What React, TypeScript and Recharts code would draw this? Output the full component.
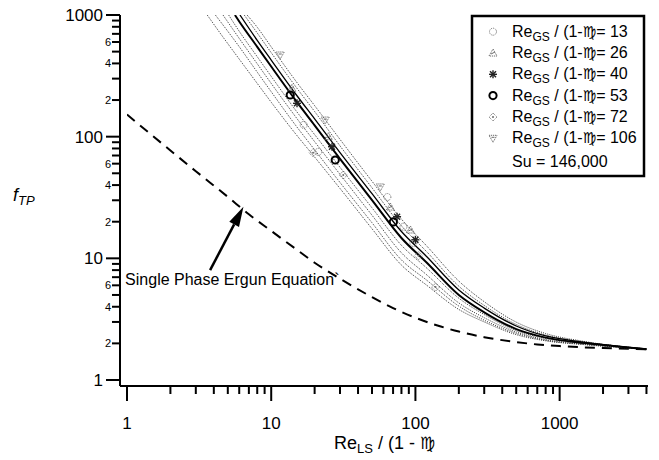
import React from 'react';
import { ComposedChart, Line, Scatter, XAxis, YAxis, ReferenceLine } from 'recharts';

// ---------- tick values ----------
const xTicks = [1, 2, 3, 4, 5, 6, 7, 8, 9, 10, 20, 30, 40, 50, 60, 70, 80, 90, 100, 200, 300, 400, 500, 600, 700, 800, 900, 1000, 2000, 3000, 4000];
const yTicks = [1, 2, 3, 4, 5, 6, 7, 8, 9, 10, 20, 30, 40, 50, 60, 70, 80, 90, 100, 200, 300, 400, 500, 600, 700, 800, 900, 1000];
const majorTicks = [1, 10, 100, 1000];
const yMinorLabelled = [2, 4, 6, 20, 40, 60, 200, 400, 600];

// ---------- single phase Ergun (dashed) ----------
const ergunX = [1, 1.5, 2, 3, 5, 7, 10, 15, 20, 30, 50, 70, 100, 150, 200, 300, 500, 700, 1000, 2000, 4000];
const ergunF = [152, 102, 77, 52, 32, 23, 16.8, 11.8, 9.2, 6.8, 4.8, 3.9, 3.25, 2.75, 2.5, 2.25, 2.05, 1.96, 1.9, 1.83, 1.79];

// ---------- two-phase model curves ----------
const s1X = [5.6, 6, 8, 10, 15, 20, 30, 50, 80, 120, 200, 300, 500, 800, 1500, 4000];
const s1F = [1000, 885, 547, 377, 194, 124, 65.8, 30.1, 14.7, 9.2, 5.0, 3.6, 2.62, 2.23, 2.01, 1.79];
const s2X = [6.07, 8, 10, 15, 20, 30, 50, 80, 120, 200, 300, 500, 800, 1500, 4000];
const s2F = [1000, 618, 426, 219, 140, 74, 34, 16.6, 10.3, 5.5, 3.9, 2.78, 2.3, 2.04, 1.8];
const d1X = [3.6, 4.5, 6, 8, 10, 15, 20, 30, 50, 80, 120, 200, 300, 500, 800, 1500, 4000];
const d1F = [1000, 690, 434, 274, 192, 103, 68, 37.5, 17.5, 8.8, 6.0, 3.8, 3.0, 2.36, 2.1, 1.95, 1.79];
const d2X = [4.1, 6, 8, 10, 15, 20, 30, 50, 80, 120, 200, 300, 500, 800, 1500, 4000];
const d2F = [1000, 549, 339, 234, 121, 78, 42, 19.6, 9.7, 6.6, 4.05, 3.1, 2.42, 2.12, 1.96, 1.79];
const d3X = [4.63, 6, 8, 10, 15, 20, 30, 50, 80, 120, 200, 300, 500, 800, 1500, 4000];
const d3F = [1000, 642, 397, 274, 142, 91, 49, 22.6, 11.1, 7.3, 4.3, 3.25, 2.48, 2.15, 1.98, 1.79];
const d4X = [5.07, 6, 8, 10, 15, 20, 30, 50, 80, 120, 200, 300, 500, 800, 1500, 4000];
const d4F = [1000, 735, 454, 313, 161, 104, 56, 26, 12.8, 8.3, 4.7, 3.45, 2.55, 2.2, 2.0, 1.79];
const d5X = [6.5, 8, 10, 15, 20, 30, 50, 80, 120, 200, 300, 500, 800, 1500, 4000];
const d5F = [1000, 711, 490, 252, 161, 84, 38, 18.5, 11.3, 5.9, 4.1, 2.86, 2.34, 2.05, 1.8];
const d6X = [6.8, 8, 10, 15, 20, 30, 50, 80, 120, 200, 300, 500, 800, 1500, 4000];
const d6F = [1000, 793, 547, 281, 180, 95, 43, 21, 12.6, 6.5, 4.4, 2.99, 2.41, 2.07, 1.8];

// ---------- experimental points ----------
const p13X = [16.8, 21.2, 63.9, 82.6, 96.8];
const p13F = [125, 75, 31.9, 18.2, 13.4];
const p26X = [13.9, 24.9, 67, 92.3];
const p26F = [250, 100, 26.4, 17.1];
const p40X = [15.1, 26.4, 74.6, 100];
const p40F = [188, 82.7, 22, 14.2];
const p53X = [13.55, 27.8, 70.3];
const p53F = [220, 64.3, 19.9];
const p72X = [31.6, 105, 138, 19.5];
const p72F = [48.4, 10.5, 5.8, 73.7];
const p106X = [11.55, 23.7, 57.1];
const p106F = [469, 137, 38.6];

const legendValues = ['13', '26', '40', '53', '72', '106'];
const legendKinds = ['circ', 'tri', 'star', 'bigO', 'diam', 'triDown'];
const suText = 'Su = 146,000';
const annotation = 'Single Phase Ergun Equation`';
const arrowTail = { x: 3.77, y: 8.0 };
const arrowTip = { x: 6.42, y: 26.6 };

const zip = (xs: number[], ys: number[]) => xs.map((x, i) => ({ x, y: ys[i] }));

const FONT = '"Liberation Sans", Arial, sans-serif';
const VIRGO = '\u264D\uFE0E';

function Glyph({ kind, cx, cy }: { kind: string; cx: number; cy: number }) {
  const g = '#6a6a6a';
  switch (kind) {
    case 'circ':
      return <circle cx={cx} cy={cy} r={3.5} fill="none" stroke={g} strokeWidth={1} strokeDasharray="1 1" />;
    case 'tri':
      return (
        <g fill="none" stroke={g} strokeWidth={1}>
          <polygon points={`${cx},${cy - 4} ${cx + 4},${cy + 3} ${cx - 4},${cy + 3}`} strokeDasharray="1.2 0.8" />
          <line x1={cx - 2} y1={cy + 1} x2={cx + 2} y2={cy - 1} />
        </g>
      );
    case 'star':
      return (
        <g stroke="#222" strokeWidth={1.4}>
          <line x1={cx - 4} y1={cy} x2={cx + 4} y2={cy} />
          <line x1={cx} y1={cy - 4} x2={cx} y2={cy + 4} />
          <line x1={cx - 3} y1={cy - 3} x2={cx + 3} y2={cy + 3} />
          <line x1={cx - 3} y1={cy + 3} x2={cx + 3} y2={cy - 3} />
        </g>
      );
    case 'bigO':
      return <circle cx={cx} cy={cy} r={3.6} fill="none" stroke="#000" strokeWidth={2} />;
    case 'diam':
      return (
        <g fill="none" stroke={g} strokeWidth={1}>
          <polygon points={`${cx},${cy - 4} ${cx + 4},${cy} ${cx},${cy + 4} ${cx - 4},${cy}`} strokeDasharray="1 1" />
          <circle cx={cx} cy={cy} r={1} fill={g} stroke="none" />
        </g>
      );
    default:
      return (
        <g fill="none" stroke={g} strokeWidth={1}>
          <polygon points={`${cx - 4},${cy - 3} ${cx + 4},${cy - 3} ${cx},${cy + 4}`} strokeDasharray="1.2 0.8" />
          <line x1={cx - 1.5} y1={cy - 1} x2={cx + 1.5} y2={cy - 1} />
        </g>
      );
  }
}

const shapeFor = (kind: string) => (p: any) => <Glyph kind={kind} cx={p.cx} cy={p.cy} />;

const YTick = (props: any) => {
  const { x, y, payload } = props;
  const v = payload.value as number;
  const major = majorTicks.includes(v);
  const lab = yMinorLabelled.includes(v);
  return (
    <g>
      <line x1={x - (major ? 14 : 8)} x2={x} y1={y} y2={y} stroke="#000" strokeWidth={2} />
      {major && (
        <text x={x - 17} y={y} dy="0.36em" textAnchor="end" fontSize={17} fontFamily={FONT} fill="#000">
          {v}
        </text>
      )}
      {lab && (
        <text x={x - 9} y={y} dy="0.36em" textAnchor="end" fontSize={11} fontFamily={FONT} fill="#000">
          {String(v).charAt(0)}
        </text>
      )}
    </g>
  );
};

const XTick = (props: any) => {
  const { x, y, payload } = props;
  const v = payload.value as number;
  const major = majorTicks.includes(v);
  return (
    <g>
      <line x1={x} x2={x} y1={y} y2={y + (major ? 15 : 8)} stroke="#000" strokeWidth={2} />
      {major && (
        <text x={x} y={y + 43} textAnchor="middle" fontSize={17} fontFamily={FONT} fill="#000">
          {v}
        </text>
      )}
    </g>
  );
};

const ArrowShape = (props: any) => {
  const { x1, y1, x2, y2 } = props;
  const dx = x2 - x1;
  const dy = y2 - y1;
  const len = Math.sqrt(dx * dx + dy * dy);
  const ux = dx / len;
  const uy = dy / len;
  const hl = 20;
  const hw = 5.5;
  const bx = x2 - ux * hl;
  const by = y2 - uy * hl;
  return (
    <g>
      <line x1={x1} y1={y1} x2={bx} y2={by} stroke="#000" strokeWidth={2.5} />
      <polygon
        points={`${x2},${y2} ${bx - uy * hw},${by + ux * hw} ${bx + uy * hw},${by - ux * hw}`}
        fill="#000"
      />
      <text x={x1 - 85} y={y1 + 15} fontSize={16} fontFamily={FONT} fill="#000">
        {annotation}
      </text>
    </g>
  );
};

const dottedLines = [
  zip(d1X, d1F),
  zip(d2X, d2F),
  zip(d3X, d3F),
  zip(d4X, d4F),
  zip(d5X, d5F),
  zip(d6X, d6F),
];

const pointSets = [
  zip(p13X, p13F),
  zip(p26X, p26F),
  zip(p40X, p40F),
  zip(p53X, p53F),
  zip(p72X, p72F),
  zip(p106X, p106F),
];

export default function App() {
  const rowBase = [36.7, 58, 79.3, 100.6, 122, 143.3];
  return (
    <div style={{ position: 'absolute', left: 0, top: 0, width: 659, height: 460, background: '#fff' }}>
      <ComposedChart width={659} height={460} margin={{ top: 15, right: 11, left: 10, bottom: 14 }}>
        <XAxis
          dataKey="x"
          type="number"
          scale="log"
          domain={[1, 4100]}
          allowDataOverflow
          ticks={xTicks}
          interval={0}
          tickSize={0}
          tickMargin={0}
          tickLine={false}
          tick={<XTick />}
          height={60}
          padding={{ left: 7, right: 0 }}
          axisLine={{ stroke: '#000', strokeWidth: 2 }}
        />
        <YAxis
          dataKey="y"
          type="number"
          scale="log"
          domain={[1, 1000]}
          allowDataOverflow
          ticks={yTicks}
          interval={0}
          tickSize={0}
          tickMargin={0}
          tickLine={false}
          tick={<YTick />}
          width={110}
          padding={{ top: 0, bottom: 6 }}
          axisLine={{ stroke: '#000', strokeWidth: 2 }}
        />
        <Line
          data={zip(ergunX, ergunF)}
          dataKey="y"
          type="monotone"
          stroke="#000"
          strokeWidth={2}
          strokeDasharray="10 7"
          dot={false}
          activeDot={false}
          isAnimationActive={false}
        />
        {dottedLines.map((d, i) => (
          <Line
            key={'d' + i}
            data={d}
            dataKey="y"
            type="monotone"
            stroke="#333"
            strokeWidth={1}
            strokeDasharray="1 1.2"
            dot={false}
            activeDot={false}
            isAnimationActive={false}
          />
        ))}
        <Line
          data={zip(s2X, s2F)}
          dataKey="y"
          type="monotone"
          stroke="#000"
          strokeWidth={1.3}
          dot={false}
          activeDot={false}
          isAnimationActive={false}
        />
        <Line
          data={zip(s1X, s1F)}
          dataKey="y"
          type="monotone"
          stroke="#000"
          strokeWidth={2}
          dot={false}
          activeDot={false}
          isAnimationActive={false}
        />
        {pointSets.map((d, i) => (
          <Scatter
            key={'p' + i}
            data={d}
            dataKey="y"
            shape={shapeFor(legendKinds[i])}
            isAnimationActive={false}
          />
        ))}
        <ReferenceLine segment={[arrowTail, arrowTip]} shape={ArrowShape} ifOverflow="visible" />
      </ComposedChart>
      <svg
        width={659}
        height={460}
        style={{ position: 'absolute', left: 0, top: 0, pointerEvents: 'none' }}
      >
        <rect x={472} y={16} width={172} height={160} fill="#fff" stroke="#000" strokeWidth={2.5} />
        {legendValues.map((v, i) => (
          <g key={v}>
            <Glyph kind={legendKinds[i]} cx={493} cy={rowBase[i] - 5} />
            <text x={512} y={rowBase[i]} fontSize={16} fontFamily={FONT} fill="#000">
              <tspan>Re</tspan>
              <tspan fontSize={12} dy={4}>GS</tspan>
              <tspan dy={-4}> / (1-</tspan>
              <tspan fontFamily='"DejaVu Sans", sans-serif' fontSize={15}>{VIRGO}</tspan>
              <tspan>= {v}</tspan>
            </text>
          </g>
        ))}
        <text x={512} y={166.7} fontSize={16} fontFamily={FONT} fill="#000">
          {suText}
        </text>
        <text x={13} y={201} fontSize={18} fontFamily={FONT} fontStyle="italic" fill="#000">
          <tspan>f</tspan>
          <tspan fontSize={13} dy={4}>TP</tspan>
        </text>
        <text x={334} y={449} fontSize={18} fontFamily={FONT} fill="#000">
          <tspan>Re</tspan>
          <tspan fontSize={13} dy={4}>LS</tspan>
          <tspan dy={-4}> / (1 - </tspan>
          <tspan fontFamily='"DejaVu Sans", sans-serif' fontSize={17}>{VIRGO}</tspan>
        </text>
      </svg>
    </div>
  );
}
